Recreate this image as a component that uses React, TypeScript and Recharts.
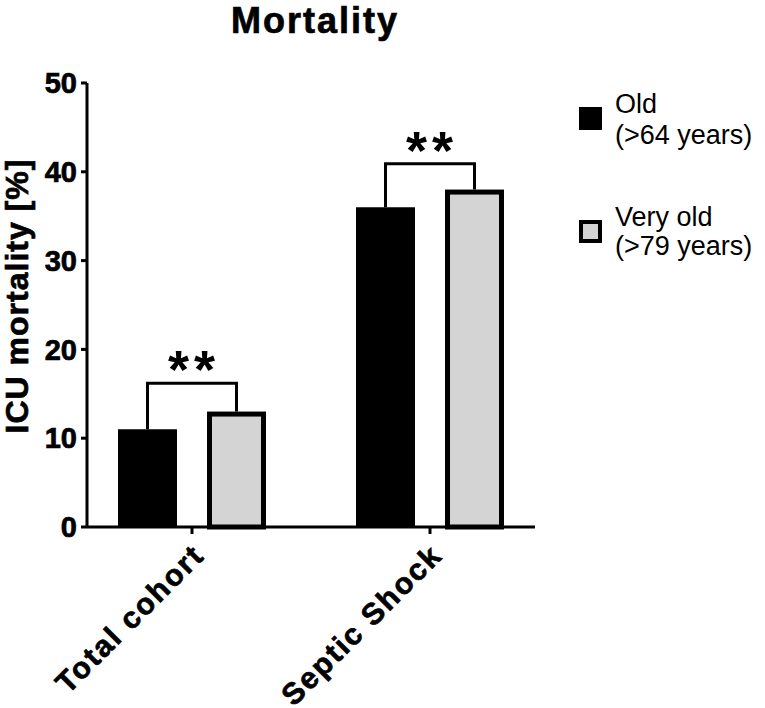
import React from 'react';
import { Bar, BarChart, XAxis, YAxis, Label } from 'recharts';

const categories = ['Total cohort', 'Septic Shock'];
const oldValues = [11, 36];
const veryOldValues = [13, 38];
const bracketLevels = [16.2, 40.9];
const sigLabels = ['**', '**'];
const yTicks = [0, 10, 20, 30, 40, 50];

const seriesInfo = [
  { key: 'old', line1: 'Old', line2: '(>64 years)', fill: '#000000' },
  { key: 'veryOld', line1: 'Very old', line2: '(>79 years)', fill: '#d4d4d4' },
];

const data = categories.map((name, i) => ({
  name,
  old: oldValues[i],
  veryOld: veryOldValues[i],
  sig: bracketLevels[i],
  sigLabel: sigLabels[i],
}));

const FONT = '"Liberation Sans", Arial, Helvetica, sans-serif';
const BAR_SIZE = 59;
const BAR_GAP = 30;
const BORDER = 5;

// heavier look for the bold labels
const heavy = { stroke: '#000', strokeWidth: 0.7 };

function VeryOldShape(props: any) {
  const { x, y, width, height, payload } = props;
  if (width == null || height == null) return null;
  const bottom = y + height;
  const ppu = height / payload.veryOld;
  const blackTop = bottom - payload.old * ppu;
  const bracketY = bottom - payload.sig * ppu;
  const greyCx = x + width / 2;
  const blackCx = greyCx - width - BAR_GAP;
  return (
    <g>
      <path
        d={`M${blackCx},${blackTop} V${bracketY} H${greyCx} V${y}`}
        fill="none"
        stroke="#000"
        strokeWidth={3}
      />
      <rect
        x={x + BORDER / 2}
        y={y + BORDER / 2}
        width={width - BORDER}
        height={height - BORDER / 2}
        fill="#d4d4d4"
        stroke="#000"
        strokeWidth={BORDER}
      />
      <text
        x={(blackCx + greyCx) / 2 + 2}
        y={bracketY + 5}
        textAnchor="middle"
        fontFamily={FONT}
        fontWeight="bold"
        fontSize={54}
        letterSpacing={5}
        fill="#000"
      >
        {payload.sigLabel}
      </text>
    </g>
  );
}

function XTick(props: any) {
  const { x, y, payload } = props;
  return (
    <g transform={`translate(${x + 14},${y + 21})`}>
      <text
        transform="rotate(-45)"
        textAnchor="end"
        fontFamily={FONT}
        fontWeight="bold"
        fontSize={30}
        letterSpacing={2}
        fill="#000"
        {...heavy}
      >
        {payload.value}
      </text>
    </g>
  );
}

function YLabel(props: any) {
  const { viewBox } = props;
  const cy = viewBox.y + viewBox.height / 2 - 9;
  return (
    <text
      transform={`translate(28,${cy}) rotate(-90)`}
      textAnchor="middle"
      fontFamily={FONT}
      fontWeight="bold"
      fontSize={32}
      letterSpacing={1}
      fill="#000"
      {...heavy}
    >
      ICU mortality [%]
    </text>
  );
}

export default function App() {
  return (
    <div style={{ position: 'absolute', left: 0, top: 0, background: '#fff' }}>
      <BarChart
        width={765}
        height={708}
        data={data}
        margin={{ top: 83, right: 230, bottom: 0, left: 0 }}
        barSize={BAR_SIZE}
        barGap={BAR_GAP}
      >
        <text
          x={315}
          y={33}
          textAnchor="middle"
          fontFamily={FONT}
          fontWeight="bold"
          fontSize={36}
          letterSpacing={2}
          fill="#000"
          {...heavy}
        >
          Mortality
        </text>
        <XAxis
          dataKey="name"
          height={181}
          padding={{ left: -14, right: -14 }}
          axisLine={{ stroke: '#000', strokeWidth: 3 }}
          tickLine={{ stroke: '#000', strokeWidth: 3 }}
          tickSize={7}
          tick={<XTick />}
          interval={0}
        />
        <YAxis
          width={87}
          domain={[0, 50]}
          ticks={yTicks}
          axisLine={{ stroke: '#000', strokeWidth: 3 }}
          tickLine={{ stroke: '#000', strokeWidth: 3 }}
          tickSize={6}
          tickMargin={4}
          tick={{ fill: '#000', fontSize: 29, fontWeight: 'bold', fontFamily: FONT, ...heavy }}
        >
          <Label content={<YLabel />} />
        </YAxis>
        <Bar dataKey="old" fill="#000" isAnimationActive={false} />
        <Bar dataKey="veryOld" fill="#d4d4d4" shape={<VeryOldShape />} isAnimationActive={false} />
        {seriesInfo.map((s, i) => (
          <g key={s.key}>
            {i === 0 ? (
              <rect x={579} y={107} width={23} height={23} fill={s.fill} />
            ) : (
              <rect x={581} y={222} width={19} height={19} fill={s.fill} stroke="#000" strokeWidth={4} />
            )}
            <text x={615} y={113 + i * 113} fontFamily={FONT} fontSize={27} fill="#000">
              {s.line1}
            </text>
            <text x={615} y={144 + i * 111} fontFamily={FONT} fontSize={27} fill="#000">
              {s.line2}
            </text>
          </g>
        ))}
      </BarChart>
    </div>
  );
}
